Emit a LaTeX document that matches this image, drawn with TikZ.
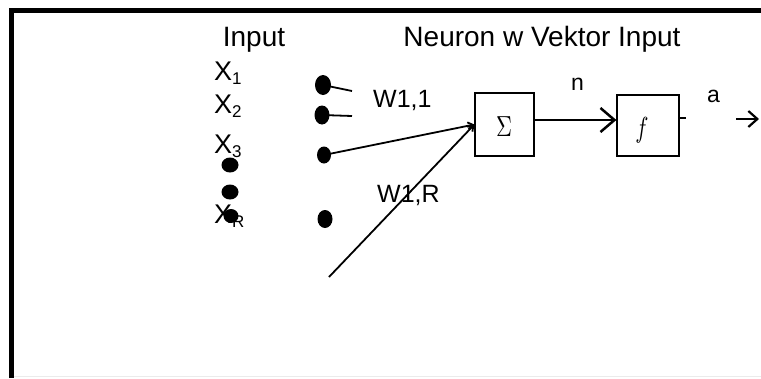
\documentclass[tikz,border=0pt]{standalone}
\usepackage{fontspec}
\setmainfont{Liberation Sans}
\usetikzlibrary{arrows.meta,shapes.geometric}
\tikzset{
  hdr/.style={inner sep=0pt,anchor=base,font=\fontsize{28}{30}\selectfont},
  xlbl/.style={inner sep=0pt,anchor=base west,font=\fontsize{27}{29}\selectfont},
  wlbl/.style={inner sep=0pt,anchor=base west,font=\fontsize{25}{27}\selectfont},
  sm/.style={inner sep=0pt,anchor=base west,font=\fontsize{23}{25}\selectfont},
  dot/.style={ellipse,fill=black,inner sep=0pt},
  blk/.style={draw,line width=1.2pt,inner sep=0pt},
  wire/.style={line width=1.8pt},
}
\newcommand{\xsub}[1]{\raisebox{-0.33ex}{\fontsize{17}{17}\selectfont #1}}
\begin{document}
\begin{tikzpicture}[x=1pt,y=-1pt]
\useasboundingbox (0,0) rectangle (761,378);
% frame
\draw[line width=5pt] (11,378) -- (11,10) -- (761,10);
\draw[black!8,line width=1pt] (14,376) -- (761,376);
% headers
\node[hdr] (hin) at (254,46) {Input};
\node[hdr] (hneu) at (542,46) {Neuron w Vektor Input};
% left dots
\node[dot,minimum width=17pt,minimum height=15pt] (ld1) at (230,165) {};
\node[dot,minimum width=17pt,minimum height=15pt] (ld2) at (230,192) {};
\node[dot,minimum width=15pt,minimum height=14pt] (ld3) at (231,216) {};
% inputs
\node[xlbl] (x1) at (214,80) {X\xsub{1}};
\node[xlbl] (x2) at (214,113) {X\xsub{2}};
\node[xlbl] (x3) at (214,153) {X\xsub{3}};
\node[xlbl] (xr) at (214,223) {X\xsub{R}};
% right dots
\node[dot,minimum width=16pt,minimum height=20pt] (rd1) at (323,85) {};
\node[dot,minimum width=15pt,minimum height=19pt] (rd2) at (322,115) {};
\node[dot,minimum width=14pt,minimum height=17pt] (rd3) at (324,155) {};
\node[dot,minimum width=15pt,minimum height=18pt] (rd4) at (325,219) {};
% weights
\node[wlbl] (w11) at (373,107) {W1,1};
\node[wlbl] (w1r) at (377,202) {W1,R};
% blocks
\node[blk,minimum width=59pt,minimum height=63pt] (sum) at (504.5,124.5) {};
\node[inner sep=0pt] (sumtxt) at (504,127) {\scalebox{2.2}[2.9]{$\Sigma$}};
\node[blk,minimum width=62pt,minimum height=61pt] (f) at (648,125.5) {};
\node[inner sep=0pt] (ftxt) at (642,130) {\scalebox{2.2}[2.9]{$f$}};
\node[sm] (n) at (571,90) {n};
\node[sm] (a) at (707,102) {a};
% connectors
\coordinate (e1) at (352,91);
\coordinate (e2) at (352,116);
\coordinate (lstart) at (329,277);
\coordinate (tick) at (686,118);
\coordinate (os) at (736,119);
\coordinate (oe) at (759,119);
\draw[wire] (rd1.center) -- (e1);
\draw[wire] (rd2.center) -- (e2);
\draw[wire,-{Straight Barb[length=5pt,width=7pt]}] (rd3.center) -- (sum.west);
\draw[wire,-{Straight Barb[length=5pt,width=7pt]}] (lstart) -- (sum.west);
\draw[line width=2.5pt,-{Straight Barb[length=14pt,width=24pt]}] (sum.east |- 0,120) -- (f.west |- 0,120);
\draw[line width=2pt] (f.east |- tick) -- (tick);
\draw[line width=2.2pt,-{Straight Barb[length=9pt,width=16pt]}] (os) -- (oe);
\end{tikzpicture}
\end{document}
